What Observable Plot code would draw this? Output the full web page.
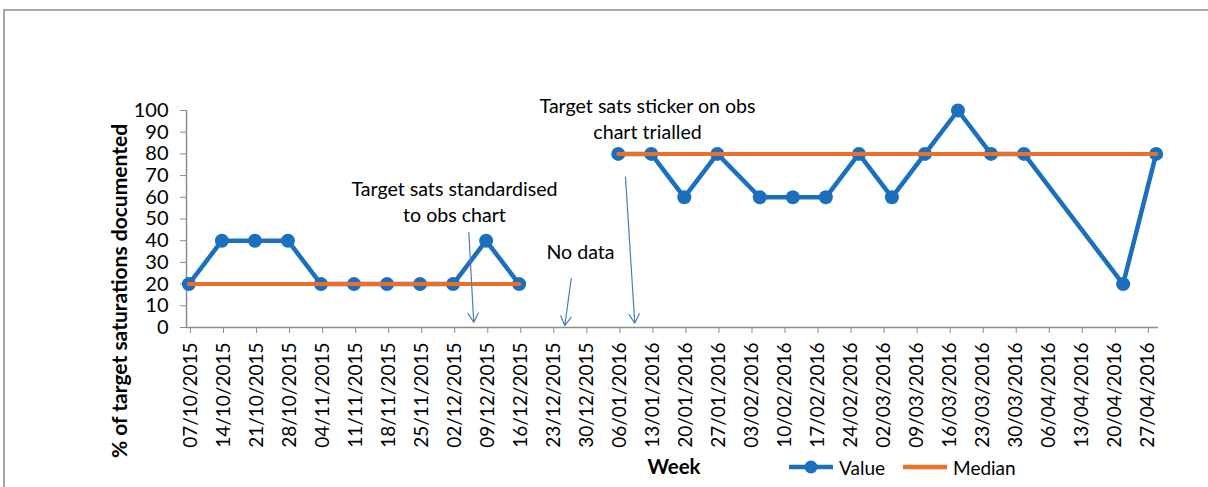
<!DOCTYPE html>
<html>
<head>
<meta charset="utf-8">
<script src="https://cdn.jsdelivr.net/npm/d3@7"></script>
<script src="https://cdn.jsdelivr.net/npm/@observablehq/plot@0.6"></script>
<style>
  body { margin: 0; background: #fff; font-family: Lato, "Open Sans", sans-serif; }
  #wrap { position: relative; width: 1208px; height: 487px; overflow: hidden; background: #fff; }
  #frame { position: absolute; left: 3px; top: 9px; width: 1400px; height: 700px;
           border-top: 2px solid #a6a6a6; border-left: 2px solid #a6a6a6; }
  #chart { position: absolute; left: 0; top: 0; }
  .ytitle { position: absolute; left: 118px; top: 291px; transform: translate(-50%, -50%) rotate(-90deg);
            white-space: nowrap; font-weight: bold; font-size: 21px; color: #000; }
  .xtitle { position: absolute; left: 674px; top: 466px; transform: translate(-50%, -50%);
            font-weight: bold; font-size: 20.5px; color: #000; }
  .legend { position: absolute; left: 788px; top: 454px; display: flex; align-items: center;
            font-size: 19px; color: #000; white-space: nowrap; }
  .legend svg { display: block; }
</style>
</head>
<body>
<div id="wrap">
  <div id="frame"></div>
  <div id="chart"></div>
  <div class="ytitle" id="ytitle"></div>
  <div class="xtitle" id="xtitle"></div>
  <div class="legend" id="legend"></div>
</div>
<script>
// ---- data ----
const weekLabels = ["07/10/2015","14/10/2015","21/10/2015","28/10/2015","04/11/2015","11/11/2015","18/11/2015","25/11/2015","02/12/2015","09/12/2015","16/12/2015","23/12/2015","30/12/2015","06/01/2016","13/01/2016","20/01/2016","27/01/2016","03/02/2016","10/02/2016","17/02/2016","24/02/2016","02/03/2016","09/03/2016","16/03/2016","23/03/2016","30/03/2016","06/04/2016","13/04/2016","20/04/2016","27/04/2016"];
const valueDates = ["07/10/2015","14/10/2015","21/10/2015","28/10/2015","04/11/2015","11/11/2015","18/11/2015","25/11/2015","02/12/2015","09/12/2015","16/12/2015","23/12/2015","30/12/2015","06/01/2016","13/01/2016","20/01/2016","27/01/2016","05/02/2016","12/02/2016","19/02/2016","26/02/2016","04/03/2016","11/03/2016","18/03/2016","25/03/2016","01/04/2016","22/04/2016","29/04/2016"];
const values   = [20,40,40,40,20,20,20,20,20,40,20,null,null,80,80,60,80,60,60,60,80,60,80,100,80,80,20,80];
const medians  = [20,20,20,20,20,20,20,20,20,20,20,null,null,80,80,80,80,80,80,80,80,80,80,80,80,80,80,80];
const seriesNames = ["Value", "Median"];
const axisLabels = { y: "% of target saturations documented", x: "Week" };

const noteTexts  = ["Target sats standardised\nto obs chart", "No data", "Target sats sticker on obs\nchart trialled"];
const noteDates  = ["2015-12-02T19:00Z", "2015-12-29T12:00Z", "2016-01-12T17:00Z"];
const noteValues = [58.5, 35.5, 96.8];
const arrowFromDates  = ["2015-12-05T20:00Z", "2015-12-27T13:00Z", "2016-01-08T01:00Z"];
const arrowFromValues = [43.9, 22.6, 69.3];
const arrowToDates    = ["2015-12-06T21:00Z", "2015-12-26T04:00Z", "2016-01-10T00:00Z"];
const arrowToValues   = [2.4, 0.9, 2.0];

// ---- build ----
const parse = d3.utcParse("%d/%m/%Y");
const fmt = d3.utcFormat("%d/%m/%Y");
const BLUE = "#1b6fbd", ORANGE = "#e8702a", AXIS = "#8c8c8c", ARROW = "#4a7ebb";

const rows = valueDates.map((d, i) => ({ date: parse(d), value: values[i], median: medians[i] }));
const tickDates = weekLabels.map(parse);
const xDomain = [tickDates[0], d3.utcDay.offset(parse(valueDates[valueDates.length - 1]), 1)];
const mid = d => d3.utcHour.offset(d.date, 12);

const notes = noteTexts.map((t, i) => ({ text: t, date: new Date(noteDates[i]), v: noteValues[i] }));
const arrows = arrowFromDates.map((d, i) => ({
  x1: new Date(d), y1: arrowFromValues[i], x2: new Date(arrowToDates[i]), y2: arrowToValues[i]
}));

const chart = Plot.plot({
  width: 1208,
  height: 487,
  marginLeft: 186,
  marginRight: 50,
  marginTop: 110,
  marginBottom: 160,
  style: { fontFamily: "Lato, 'Open Sans', sans-serif", fontSize: "19px", color: "#000", background: "transparent" },
  x: { type: "utc", domain: xDomain },
  y: { domain: [0, 100] },
  marks: [
    Plot.axisX({ ticks: tickDates, tickFormat: fmt, tickRotate: -90, tickSize: 6, tickPadding: 9,
                 stroke: AXIS, label: null, fontSize: 19, dx: 4 }),
    Plot.axisY({ ticks: d3.range(0, 101, 10), tickSize: 6, tickPadding: 12, stroke: AXIS, label: null, fontSize: 20 }),
    Plot.ruleY([0], { stroke: AXIS, strokeWidth: 1.5 }),
    Plot.ruleX([xDomain[0]], { y1: 0, y2: 100, stroke: AXIS, strokeWidth: 1.5 }),
    Plot.line(rows, { x: mid, y: "value", stroke: BLUE, strokeWidth: 4.5 }),
    Plot.dot(rows.filter(d => d.value != null), { x: mid, y: "value", r: 7, fill: BLUE }),
    Plot.line(rows, { x: mid, y: "median", stroke: ORANGE, strokeWidth: 4 }),
    Plot.arrow(arrows, { x1: "x1", y1: "y1", x2: "x2", y2: "y2", stroke: ARROW, strokeWidth: 1.2,
                         headLength: 13, headAngle: 60 }),
    Plot.text(notes, { x: "date", y: "v", text: "text", fontSize: 19.6, lineHeight: 1.33, fill: "#000" })
  ]
});
document.getElementById("chart").appendChild(chart);

document.getElementById("ytitle").textContent = axisLabels.y;
document.getElementById("xtitle").textContent = axisLabels.x;

const legend = document.getElementById("legend");
legend.innerHTML =
  `<svg width="46" height="26"><line x1="1" y1="13" x2="45" y2="13" stroke="${BLUE}" stroke-width="4.5"/>` +
  `<circle cx="23" cy="13" r="6.5" fill="${BLUE}"/></svg>` +
  `<span style="margin-left:5px">${seriesNames[0]}</span>` +
  `<svg width="46" height="26" style="margin-left:17px"><line x1="1" y1="13" x2="45" y2="13" stroke="${ORANGE}" stroke-width="4.5"/></svg>` +
  `<span style="margin-left:5px">${seriesNames[1]}</span>`;
</script>
</body>
</html>
